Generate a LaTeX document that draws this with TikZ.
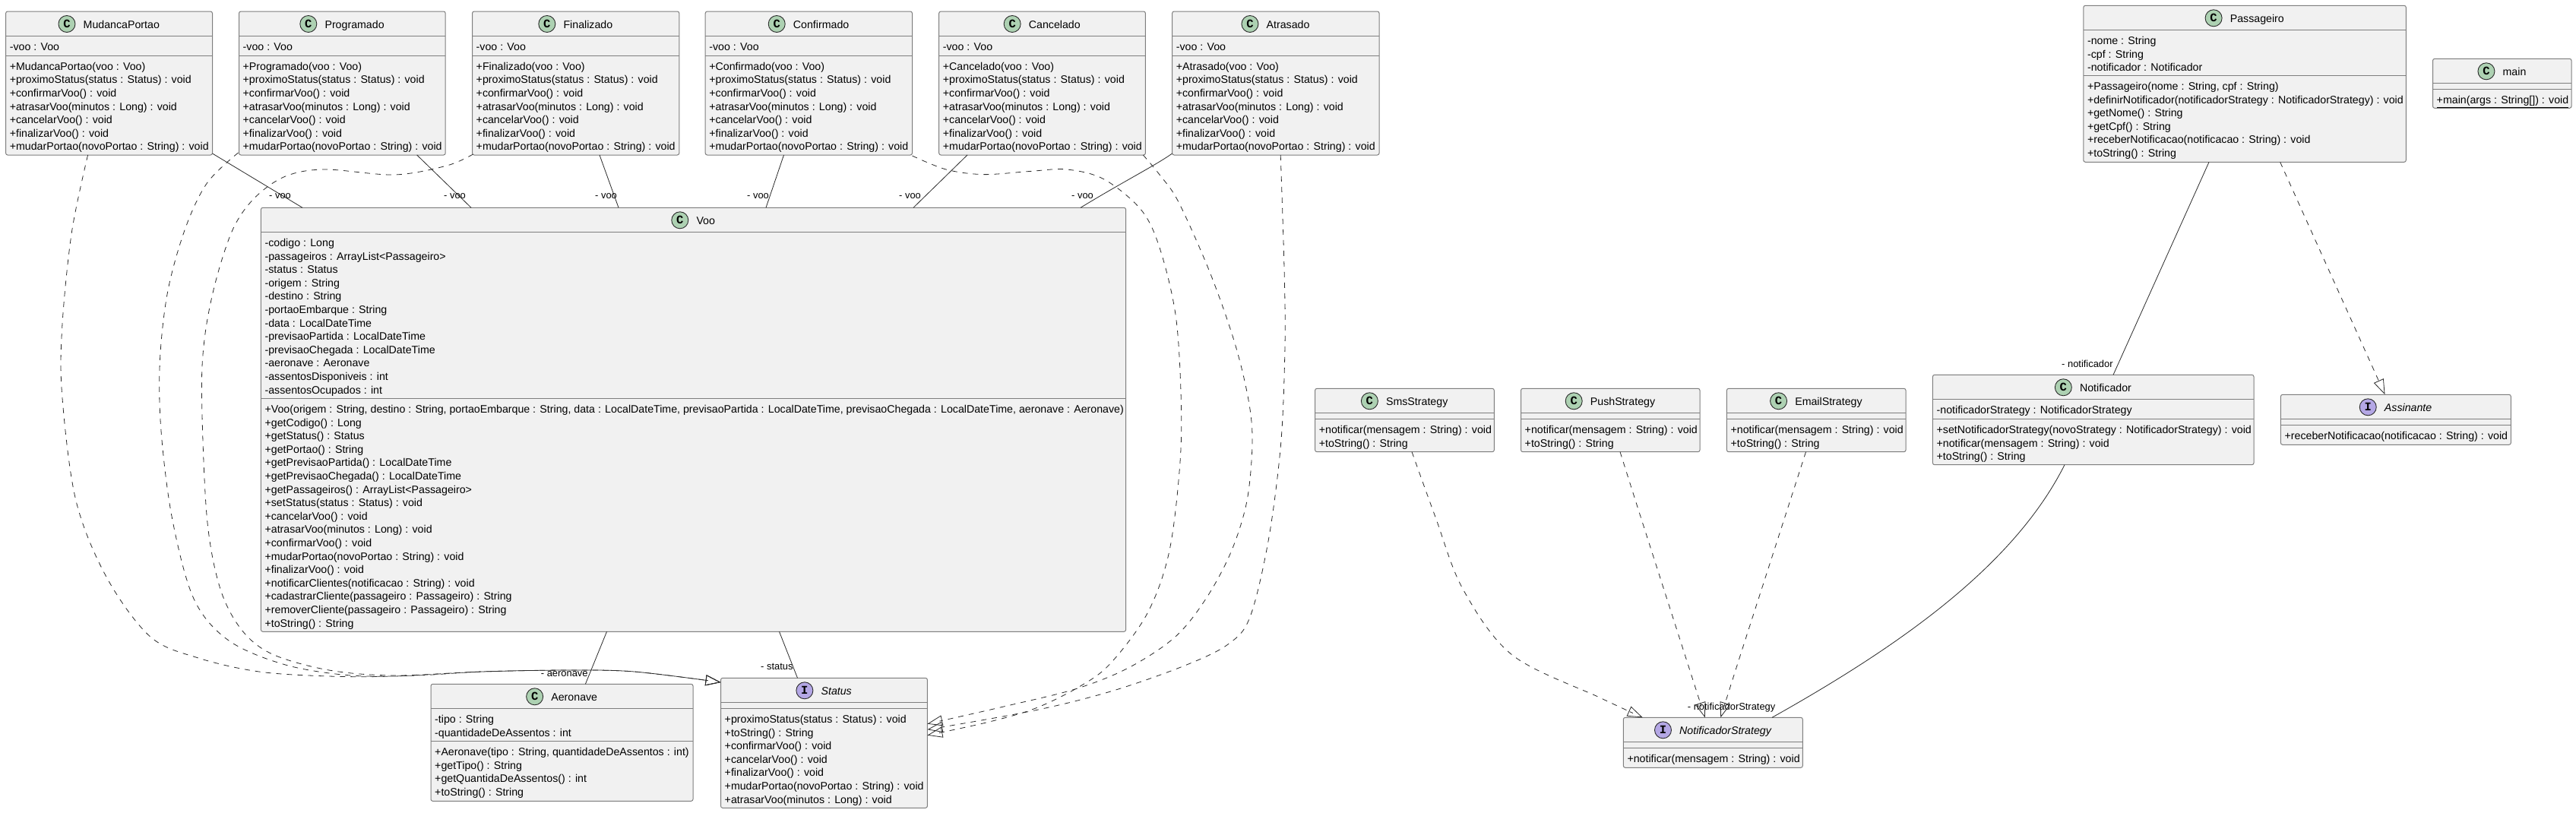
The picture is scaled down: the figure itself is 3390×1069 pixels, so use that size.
\documentclass[tikz,border=0pt]{standalone}
\usepackage{fontspec}
\setmainfont{Liberation Sans}
\newfontfamily\iconfont{Liberation Mono}[Scale=1.0]
\usetikzlibrary{calc,arrows.meta}
\definecolor{boxfill}{HTML}{F1F1F1}
\definecolor{boxline}{HTML}{7E7E7E}
\definecolor{edgeline}{HTML}{2A2A2A}
\definecolor{iconC}{HTML}{ADD1B2}
\definecolor{iconI}{HTML}{B4A7E5}
\tikzset{
  umlbox/.style={draw=boxline,fill=boxfill,line width=1pt,rounded corners=2.5pt,inner sep=0pt,outer sep=0pt,anchor=north west},
  sepline/.style={draw=boxline,line width=1pt},
  icon/.style={circle,draw=edgeline,line width=0.9pt,minimum size=22pt,inner sep=0pt,font=\fontsize{15.5pt}{16pt}\iconfont\bfseries},
  iconc/.style={icon,fill=iconC},
  iconi/.style={icon,fill=iconI},
  titlec/.style={inner sep=0pt,anchor=base,font=\fontsize{14.2pt}{17pt}\selectfont},
  titlei/.style={inner sep=0pt,anchor=base,font=\fontsize{14.2pt}{17pt}\selectfont\itshape},
  memb/.style={inner sep=0pt,anchor=north west,align=left,font=\fontsize{14.2pt}{17.6pt}\selectfont},
  edgelabel/.style={inner sep=0pt,anchor=base west,font=\fontsize{12.9pt}{15pt}\selectfont},
  assoc/.style={draw=edgeline,line width=0.8pt},
  realize/.style={draw=edgeline,line width=0.8pt,dash pattern=on 7pt off 7pt,
    -{Triangle[open,length=20pt,width=14pt,line width=0.8pt]}},
  curvy/.style={smooth,tension=0.55},
}
\newcommand{\umlhead}[9]{%
  % name, kind(c/i), x0, y0, x1, y1, line1, line2, title
  \pgfmathsetmacro{\bw}{#5-(#3)}\pgfmathsetmacro{\bh}{#6-(#4)}
  \node[umlbox,minimum width=\bw pt,minimum height=\bh pt] (#1) at (#3,#4) {};
  \draw[sepline] (#3,#7) -- (#5,#7);
  \draw[sepline] (#3,#8) -- (#5,#8);
  \pgfmathsetmacro{\tcx}{(#3+#5)/2}
  \pgfmathsetmacro{\ty}{#4+22}
  % the title node keeps a blank lead for the circle icon, so icon + name centre together
  \node[title#2] (#1-title) at (\tcx,\ty) {\hspace*{32.5pt}#9};
  \node[icon#2] (#1-icon) at ($(#1-title.base west)+(11,-5.5)$) {\ifx c#2C\else I\fi};
}
\newcommand{\memb}[4]{%
  % name, x0, separator y, lines
  \pgfmathsetmacro{\mx}{#2+5}\pgfmathsetmacro{\my}{#3+6}
  \node[memb] (#1) at (\mx,\my) {\vrule height 13pt depth 0pt width 0pt #4};
}
\newcommand{\statusclass}[4]{%
  % name, x0, x1, title
  \umlhead{#1}{c}{#2}{15}{#3}{204}{47}{73}{#4}
  \memb{#1-f}{#2}{47}{-voo : Voo}
  \memb{#1-m}{#2}{73}{+#4(voo : Voo)\\+proximoStatus(status : Status) : void\\+confirmarVoo() : void\\+atrasarVoo(minutos : Long) : void\\+cancelarVoo() : void\\+finalizarVoo() : void\\+mudarPortao(novoPortao : String) : void}
}
\begin{document}
\begin{tikzpicture}[x=1pt,y=-1pt]
\path[fill=white,use as bounding box] (0,0) rectangle (3390,1069);

% ---- status classes
\statusclass{mp}{7.6}{279.5}{MudancaPortao}
\statusclass{pr}{314.5}{586.2}{Programado}
\statusclass{fi}{621.5}{893.8}{Finalizado}
\statusclass{co}{928.2}{1200.5}{Confirmado}
\statusclass{ca}{1235.7}{1507.4}{Cancelado}
\statusclass{at}{1542.6}{1815}{Atrasado}

% ---- Voo
\umlhead{vo}{c}{343.4}{273.3}{1481.6}{831.3}{305.3}{524.3}{Voo}
\memb{vo-f}{343.4}{305.3}{-codigo : Long\\-passageiros : ArrayList<Passageiro>\\-status : Status\\-origem : String\\-destino : String\\-portaoEmbarque : String\\-data : LocalDateTime\\-previsaoPartida : LocalDateTime\\-previsaoChegada : LocalDateTime\\-aeronave : Aeronave\\-assentosDisponiveis : int\\-assentosOcupados : int}
\memb{vo-m}{343.4}{524.3}{+Voo(origem : String, destino : String, portaoEmbarque : String, data : LocalDateTime, previsaoPartida : LocalDateTime, previsaoChegada : LocalDateTime, aeronave : Aeronave)\\+getCodigo() : Long\\+getStatus() : Status\\+getPortao() : String\\+getPrevisaoPartida() : LocalDateTime\\+getPrevisaoChegada() : LocalDateTime\\+getPassageiros() : ArrayList<Passageiro>\\+setStatus(status : Status) : void\\+cancelarVoo() : void\\+atrasarVoo(minutos : Long) : void\\+confirmarVoo() : void\\+mudarPortao(novoPortao : String) : void\\+finalizarVoo() : void\\+notificarClientes(notificacao : String) : void\\+cadastrarCliente(passageiro : Passageiro) : String\\+removerCliente(passageiro : Passageiro) : String\\+toString() : String}

% ---- Aeronave
\umlhead{ae}{c}{567}{900.3}{912}{1054.3}{932.3}{975.3}{Aeronave}
\memb{ae-f}{567}{932.3}{-tipo : String\\-quantidadeDeAssentos : int}
\memb{ae-m}{567}{975.3}{+Aeronave(tipo : String, quantidadeDeAssentos : int)\\+getTipo() : String\\+getQuantidaDeAssentos() : int\\+toString() : String}

% ---- Status
\umlhead{st}{i}{948.5}{892.3}{1220.4}{1063.3}{924.3}{932.3}{Status}
\memb{st-m}{948.5}{932.3}{+proximoStatus(status : Status) : void\\+toString() : String\\+confirmarVoo() : void\\+cancelarVoo() : void\\+finalizarVoo() : void\\+mudarPortao(novoPortao : String) : void\\+atrasarVoo(minutos : Long) : void}

% ---- Strategies
\umlhead{sm}{c}{1730.6}{511.3}{1966.3}{594.7}{543.3}{551.3}{SmsStrategy}
\memb{sm-m}{1730.6}{551.3}{+notificar(mensagem : String) : void\\+toString() : String}
\umlhead{pu}{c}{2001.5}{511.3}{2237}{594.7}{543.3}{551.3}{PushStrategy}
\memb{pu-m}{2001.5}{551.3}{+notificar(mensagem : String) : void\\+toString() : String}
\umlhead{em}{c}{2272.4}{511.3}{2508}{594.7}{543.3}{551.3}{EmailStrategy}
\memb{em-m}{2272.4}{551.3}{+notificar(mensagem : String) : void\\+toString() : String}

% ---- Notificador
\umlhead{no}{c}{2543.4}{493.3}{2966}{611.7}{525.3}{551.3}{Notificador}
\memb{no-f}{2543.4}{525.3}{-notificadorStrategy : NotificadorStrategy}
\memb{no-m}{2543.4}{551.3}{+setNotificadorStrategy(novoStrategy : NotificadorStrategy) : void\\+notificar(mensagem : String) : void\\+toString() : String}

% ---- NotificadorStrategy
\umlhead{ns}{i}{2136.3}{944.3}{2372.3}{1010.3}{976.3}{984.3}{NotificadorStrategy}
\memb{ns-m}{2136.3}{984.3}{+notificar(mensagem : String) : void}

% ---- Assinante
\umlhead{as}{i}{3001.4}{519.3}{3304.3}{585.3}{551.3}{559.3}{Assinante}
\memb{as-m}{3001.4}{559.3}{+receberNotificacao(notificacao : String) : void}

% ---- Passageiro
\umlhead{pa}{c}{2741.8}{7.3}{3166.3}{213.3}{39.3}{99.3}{Passageiro}
\memb{pa-f}{2741.8}{39.3}{-nome : String\\-cpf : String\\-notificador : Notificador}
\memb{pa-m}{2741.8}{99.3}{+Passageiro(nome : String, cpf : String)\\+definirNotificador(notificadorStrategy : NotificadorStrategy) : void\\+getNome() : String\\+getCpf() : String\\+receberNotificacao(notificacao : String) : void\\+toString() : String}

% ---- main
\umlhead{ma}{c}{3201.5}{77.3}{3384}{142.3}{109.3}{117.3}{main}
\memb{ma-m}{3201.5}{117.3}{\underline{+main(args : String[]) : void}}

% ---- associations to Voo
\draw[assoc] ($(mp.south east)+(0,-2)$) -- ($(vo.north west)+(54.6,0)$);
\draw[assoc] ($(pr.south west)+(234.2,0)$) -- ($(vo.north west)+(276.6,0)$);
\draw[assoc] ($(fi.south west)+(167.5,0)$) -- ($(vo.north west)+(470.6,0)$);
\draw[assoc] ($(co.south west)+(103.3,0)$) -- ($(vo.north west)+(664.6,0)$);
\draw[assoc] ($(ca.south west)+(37.3,0)$) -- ($(vo.north west)+(858.6,0)$);
\draw[assoc] ($(at.south west)+(0,-2)$) .. controls (1520,218) and (1480,238) .. ($(vo.north west)+(1078.6,0)$);
\draw[assoc] ($(vo.south west)+(455.1,0)$) -- ($(ae.north west)+(203.4,0)$);
\draw[assoc] ($(vo.south west)+(682.1,0)$) -- ($(st.north west)+(101,0)$);
\draw[assoc] ($(pa.south west)+(165.2,0)$) -- ($(no.north west)+(237.6,0)$);
\draw[assoc] ($(no.south west)+(173.6,0)$) .. controls (2650,745) and (2500,850) .. ($(ns.north west)+(195.7,0)$);

\node[edgelabel] (l1) at (354,261.5) {- voo};
\node[edgelabel] (l2) at (584,261.5) {- voo};
\node[edgelabel] (l3) at (783,261.5) {- voo};
\node[edgelabel] (l4) at (983,261.5) {- voo};
\node[edgelabel] (l5) at (1183,261.5) {- voo};
\node[edgelabel] (l6) at (1410,261.5) {- voo};
\node[edgelabel] (l7) at (711.7,890.5) {- aeronave};
\node[edgelabel] (l8) at (1001,881.5) {- status};
\node[edgelabel] (l9) at (2713,483.5) {- notificador};
\node[edgelabel] (l10) at (2220.7,934.3) {- notificadorStrategy};

% ---- realisations of Status, left side
\coordinate (s1) at ($(mp.south west)+(108,0)$);
\coordinate (s2) at ($(pr.south west)+(-1,-3)$);
\coordinate (s3) at ($(fi.south west)+(1,-1)$);
\coordinate (tl) at ($(st.north west)+(0,5.7)$);
\draw[realize] plot[curvy] coordinates {(s1) (94.4,305.6) (81.8,429.6) (81.8,521.4) (100,659) (140.4,760) (197.8,838) (261,866) (341,884) (433,890) (519,890) (634,884) (749,882) (835,884) (tl)};
\draw[realize] plot[curvy] coordinates {(s2) (272.4,241) (243.7,301) (220.7,383.7) (210.4,475.5) (212,567) (226.5,682) (255,788) (301,843) (375.7,875) (462,889) (548,889) (634,884) (749,882) (835,884) (tl)};
\draw[realize] plot[curvy] coordinates {(s3) (588,218) (519,230) (427.4,223) (375.7,232) (335.5,260) (306.8,301) (283.9,370) (269.5,443) (265.5,521) (272.4,682) (289.6,774) (318,829) (358.5,861) (433,882) (519,889) (634,884) (749,882) (835,884) (tl)};

% ---- realisations of Status, right side
\coordinate (s4) at ($(co.south east)+(0,1)$);
\coordinate (s5) at ($(ca.south east)+(-3,0)$);
\coordinate (s6) at ($(at.south west)+(142.6,0)$);
\coordinate (tr1) at ($(st.north east)+(0,60.4)$);
\coordinate (tr2) at ($(st.north east)+(0,67.9)$);
\coordinate (tr3) at ($(st.north east)+(0,75.4)$);
\draw[realize] plot[curvy] coordinates {(s4) (1245,223) (1294,229.6) (1355,225.5) (1404,223) (1453,236) (1502,276.5) (1526.5,327.5) (1547,414) (1554,516) (1553,608) (1538.8,725.5) (1510,807) (1461,873.5) (1420,904) (1363,932) (1302,950) (tr3)};
\draw[realize] plot[curvy] coordinates {(s5) (1526.5,230.6) (1551,266) (1592,358) (1624.5,450) (1643,526.5) (1648,582.7) (1641,659) (1620.4,725.5) (1587.8,786.7) (1547,837.8) (1485.7,878.6) (1416,906.6) (1322.4,929.6) (tr1)};
\draw[realize] plot[curvy] coordinates {(s6) (1690,353) (1691,455) (1685.7,582.7) (1669.4,710) (1645,812) (1616,848) (1559,876) (1465,909) (1363,934.7) (tr2)};

% ---- realisations of NotificadorStrategy
\coordinate (s7) at ($(sm.south west)+(127.4,0)$);
\coordinate (s8) at ($(pu.south west)+(130.5,0)$);
\coordinate (s9) at ($(em.south west)+(104.1,0)$);
\coordinate (t7) at ($(ns.north west)+(25.4,0)$);
\coordinate (t8) at ($(ns.north west)+(107.4,0)$);
\coordinate (t9) at ($(ns.north west)+(128,0)$);
\draw[realize] plot[curvy] coordinates {(s7) (1888.8,680) (1925,775) (1990,862) (2105,918) (t7)};
\draw[realize] plot[curvy] coordinates {(s8) (2159,680) (2216.7,860) (t8)};
\draw[realize] plot[curvy] coordinates {(s9) (2349,680) (2291,860) (t9)};

% ---- Passageiro realises Assinante
\draw[realize] ($(pa.south west)+(258.8,0)$) -- ($(as.north west)+(137.1,0)$);
\end{tikzpicture}
\end{document}
